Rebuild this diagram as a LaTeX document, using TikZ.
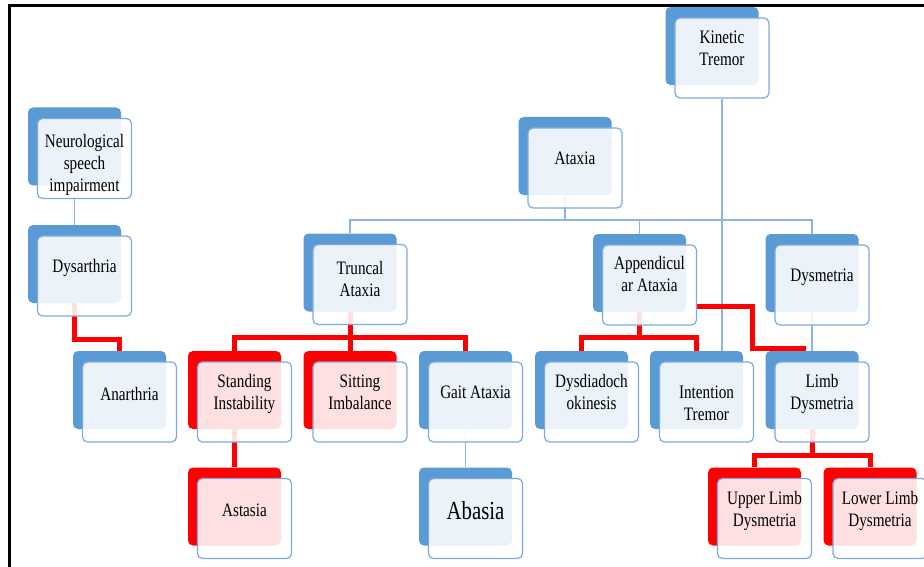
\documentclass[tikz,border=0pt]{standalone}
\usepackage{fontspec}
\setmainfont{Liberation Serif}[FakeStretch=0.8]
\usetikzlibrary{positioning,calc}
\definecolor{backblue}{RGB}{91,155,213}
\definecolor{backred}{RGB}{255,0,0}
\definecolor{edgeblue}{RGB}{125,170,222}
\definecolor{lineblue}{RGB}{141,180,226}
\pgfdeclarelayer{bg}
\pgfsetlayers{bg,main}
\tikzset{
  backbox/.style={rounded corners=5pt,minimum width=93pt,minimum height=78pt,inner sep=0pt},
  frontbox/.style={draw=edgeblue,line width=1.2pt,fill=white,fill opacity=0.88,rounded corners=5pt,minimum width=94pt,minimum height=80pt,inner sep=0pt},
  boxtext/.style={align=center,font=\fontsize{19}{22}\selectfont,text=black},
  blueline/.style={draw=lineblue,line width=1.5pt},
  redline/.style={draw=backred,line width=5pt}
}
% back shape, front card and its text
\newcommand{\smbox}[5][-4pt]{%
  \node[backbox,fill=#4] (#2) at (#3) {};
  \node[frontbox] (#2f) at ([shift={(10pt,-12pt)}]#2.center) {};
  \node[boxtext,yshift=#1] at ([xshift=10pt]#2.center) {#5};}

\begin{document}
\begin{tikzpicture}[x=1pt,y=-1pt]
	\useasboundingbox (0,0) rectangle (924,567);
	\draw[line width=3pt] (9,567) -- (9,6) -- (924,6);

	\smbox[-18pt]{neuro}{74.5,146.5}{backblue}{Neurological\\speech\\impairment}
	\smbox{dysar}{74.5,264}{backblue}{Dysarthria}
	\smbox{anar}{119.5,390}{backblue}{Anarthria}
	\smbox[-2pt]{kinetic}{712,46}{backblue}{Kinetic\\Tremor}
	\smbox[-2pt]{ataxia}{565,156}{backblue}{Ataxia}
	\smbox[-7pt]{truncal}{350,272.5}{backblue}{Truncal\\Ataxia}
	\smbox[-1pt]{append}{639.5,273}{backblue}{Appendicul\\ar Ataxia}
	\smbox{dysm}{812,273}{backblue}{Dysmetria}
	\smbox{stand}{234.5,390}{backred}{Standing\\Instability}
	\smbox[-2pt]{sit}{350,390}{backred}{Sitting\\Imbalance}
	\smbox[-2pt]{gait}{465.5,390}{backblue}{Gait Ataxia}
	\smbox[-2pt]{dysdia}{581.5,390}{backblue}{Dysdiadoch\\okinesis}
	\smbox[-13pt]{intent}{696.5,390}{backblue}{Intention\\Tremor}
	\smbox{limb}{812,390}{backblue}{Limb\\Dysmetria}
	\smbox{astasia}{234.5,506.5}{backred}{Astasia}
	\smbox{abasia}{465.5,506.5}{backblue}{\fontsize{26}{30}\selectfont Abasia}
	\smbox{upper}{754.5,506.5}{backred}{Upper Limb\\Dysmetria}
	\smbox{lower}{870,506.5}{backred}{Lower Limb\\Dysmetria}

	\begin{pgfonlayer}{bg}
		% blue links
		\draw[blueline] (neuro.south) -- (dysar.north);
		\draw[blueline] (ataxia.south) -- ++(0,25) coordinate (ab) -| (truncal.north);
		\draw[blueline] (ab) -| (append.north);
		\draw[blueline] (ab) -| (dysm.north);
		\draw[blueline] (kineticf.south) -- (kineticf.south |- intent.north);
		\draw[blueline] (gait.south) -- (abasia.north);
		\draw[blueline] (dysm.south) -- (limb.north);
		% red links
		\draw[redline] (dysar.south) -- ++(0,36) -| (anar.north);
		\draw[redline] (truncal.south) -- ++(0,26) coordinate (tb) -| (stand.north);
		\draw[redline] (tb) -| (gait.north);
		\draw[redline] (tb) -- (sit.north);
		\draw[redline] (stand.south) -- (astasia.north);
		\draw[redline] (append.south) -- ++(0,25) coordinate (pb) -| (dysdia.north);
		\draw[redline] (pb) -| (intent.north);
		\draw[redline] ([yshift=-21pt]appendf.east) -- ++(55,0) |- ([xshift=-6pt,yshift=2pt]limb.north);
		\draw[redline] (limb.south) -- ++(0,26) coordinate (lb) -| (upper.north);
		\draw[redline] (lb) -| (lower.north);
	\end{pgfonlayer}
\end{tikzpicture}
\end{document}
